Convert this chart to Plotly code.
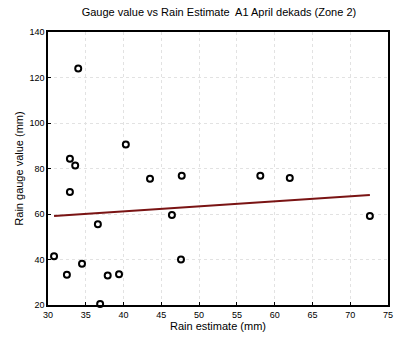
import plotly.graph_objects as go

# Gauge readings against satellite rain estimates, A1 April dekads, Zone 2
rain_estimate = [34.0, 40.3, 32.9, 33.6, 32.9, 36.6, 30.8, 32.5, 34.5, 37.9,
                 39.4, 36.9, 43.5, 47.7, 46.4, 47.6, 58.1, 62.0, 72.6]
gauge_value = [124.0, 90.6, 84.3, 81.3, 69.7, 55.5, 41.4, 33.3, 38.1, 33.0,
               33.5, 20.4, 75.5, 76.8, 59.6, 40.0, 76.8, 75.8, 59.1]

# Least-squares trend line end points
fit_x = [30.8, 72.6]
fit_y = [59.1, 68.4]

x_ticks = [30, 35, 40, 45, 50, 55, 60, 65, 70, 75]
y_ticks = [20, 40, 60, 80, 100, 120, 140]

font_family = "Liberation Sans, Arial, sans-serif"

fig = go.Figure()
fig.add_trace(go.Scatter(
    x=rain_estimate, y=gauge_value, mode="markers",
    marker=dict(symbol="circle-open", size=6, color="black",
                line=dict(width=2, color="black")),
    showlegend=False, cliponaxis=False,
))
fig.add_trace(go.Scatter(
    x=fit_x, y=fit_y, mode="lines",
    line=dict(color="#7a1414", width=2),
    showlegend=False,
))

axis_common = dict(
    showline=True, linecolor="black", linewidth=1.5, mirror=True,
    ticks="inside", ticklen=3, tickcolor="black",
    showgrid=True, gridcolor="#e2e2e2", gridwidth=1, griddash="dot",
    zeroline=False,
    tickfont=dict(family=font_family, size=9, color="black"),
)

fig.update_layout(
    width=398, height=342,
    margin=dict(l=48, r=5, t=32, b=37),
    paper_bgcolor="white", plot_bgcolor="white",
    font=dict(family=font_family, color="black"),
    title=dict(text="Gauge value vs Rain Estimate  A1 April dekads (Zone 2)",
               x=0.55, xanchor="center", y=0.965, yanchor="middle",
               font=dict(size=11, family=font_family, color="black")),
    xaxis=dict(range=[30, 75], tickvals=x_ticks,
               title=dict(text="Rain estimate (mm)", standoff=4,
                          font=dict(size=11, family=font_family)),
               **axis_common),
    yaxis=dict(range=[20, 140], tickvals=y_ticks,
               title=dict(text="Rain gauge value (mm)", standoff=4,
                          font=dict(size=11, family=font_family)),
               **axis_common),
)

fig.write_html("out.html")
